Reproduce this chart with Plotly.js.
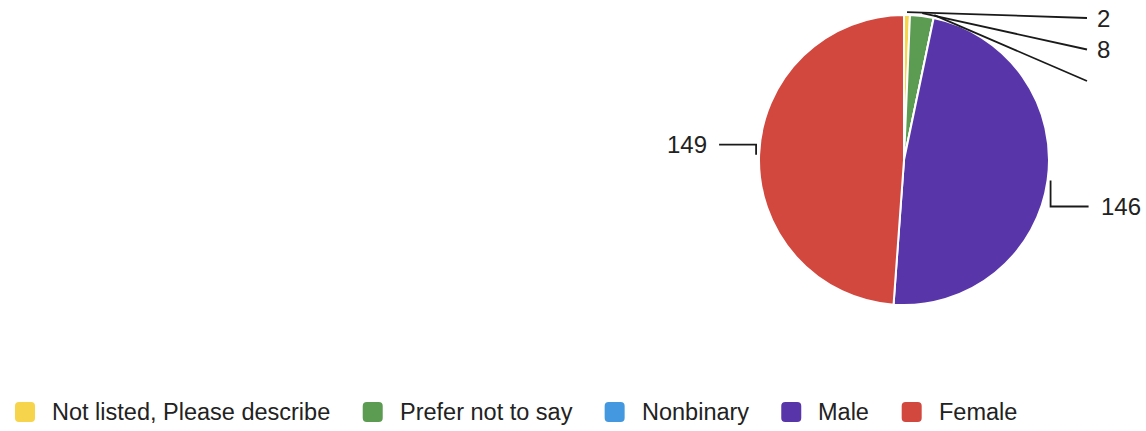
<!DOCTYPE html>
<html><head><meta charset="utf-8">
<script src="https://cdn.plot.ly/plotly-3.0.1.min.js"></script>
<style>html,body{margin:0;padding:0;background:#fff}#chart{width:1146px;height:431px}</style>
</head><body><div id="chart"></div>
<script>
// ---- data ----
const categories = ['Not listed, Please describe', 'Prefer not to say', 'Nonbinary', 'Male', 'Female'];
const counts = [2, 8, 0, 146, 149];
const sliceColors = ['#F6D44C', '#5B9C52', '#4398E0', '#5836AA', '#D2473E'];

// ---- layout constants ----
const W = 1146, H = 431;
const CX = 904, CY = 160, R = 145;
const FONT = '"Liberation Sans", Arial, Helvetica, sans-serif';
const TEXT = '#222222';
const LINE = '#1a1a1a';
const LABEL_SIZE = 24, LEGEND_SIZE = 23.5;
const px = x => x / W, py = y => 1 - y / H;

const total = counts.reduce((a, b) => a + b, 0);
let cum = 0;
const mids = counts.map(v => { const m = (cum + v / 2) / total * 2 * Math.PI; cum += v; return m; });

const shapes = [], annotations = [];
let smallK = 0;
counts.forEach((v, i) => {
  const th = mids[i], s = Math.sin(th), c = Math.cos(th);
  const x0 = CX + (R + 3) * s, y0 = CY - (R + 3) * c;
  if (v / total < 0.05) {
    const x1 = CX + R + 38, y1 = 18 + smallK * 31.5;
    shapes.push({type: 'path', xref: 'paper', yref: 'paper',
      path: `M${px(x0)},${py(y0)} L${px(x1)},${py(y1)}`,
      line: {color: LINE, width: 1.8}});
    if (v > 0) annotations.push({xref: 'paper', yref: 'paper', x: px(x1 + 8), y: py(y1),
      xanchor: 'left', yanchor: 'middle', showarrow: false, text: String(v),
      font: {family: FONT, size: LABEL_SIZE, color: TEXT}});
    smallK++;
  } else {
    const right = s > 0;
    const y1 = y0 + (right ? 26 : -10);
    const x2 = x0 + (right ? 38 : -37);
    shapes.push({type: 'path', xref: 'paper', yref: 'paper',
      path: `M${px(x0)},${py(y0)} L${px(x0)},${py(y1)} L${px(x2)},${py(y1)}`,
      line: {color: LINE, width: 1.8}});
    annotations.push({xref: 'paper', yref: 'paper', x: px(x2 + (right ? 10 : -10)), y: py(y1),
      xanchor: right ? 'left' : 'right', yanchor: 'middle', showarrow: false, text: String(v),
      font: {family: FONT, size: LABEL_SIZE, color: TEXT}});
  }
});

// ---- custom legend ----
const ctx = document.createElement('canvas').getContext('2d');
ctx.font = `${LEGEND_SIZE}px "Liberation Sans"`;
let lx = 15;
const LY = 412, SQ = 20, RAD = 4;
categories.forEach((name, i) => {
  const x0 = lx, x1 = lx + SQ, y0 = LY - SQ / 2, y1 = LY + SQ / 2;
  const p = `M${px(x0 + RAD)},${py(y0)} L${px(x1 - RAD)},${py(y0)} Q${px(x1)},${py(y0)} ${px(x1)},${py(y0 + RAD)} ` +
    `L${px(x1)},${py(y1 - RAD)} Q${px(x1)},${py(y1)} ${px(x1 - RAD)},${py(y1)} L${px(x0 + RAD)},${py(y1)} ` +
    `Q${px(x0)},${py(y1)} ${px(x0)},${py(y1 - RAD)} L${px(x0)},${py(y0 + RAD)} Q${px(x0)},${py(y0)} ${px(x0 + RAD)},${py(y0)} Z`;
  shapes.push({type: 'path', xref: 'paper', yref: 'paper', path: p,
    fillcolor: sliceColors[i], line: {width: 0}});
  const tx = x1 + 15;
  annotations.push({xref: 'paper', yref: 'paper', x: px(tx), y: py(LY),
    xanchor: 'left', yanchor: 'middle', showarrow: false, text: name,
    font: {family: FONT, size: LEGEND_SIZE, color: TEXT}});
  lx = tx + 2 + ctx.measureText(name).width + 32.5;
});

const trace = {
  type: 'pie',
  labels: categories,
  values: counts,
  sort: false,
  direction: 'clockwise',
  rotation: 0,
  textinfo: 'none',
  hoverinfo: 'label+value',
  marker: {colors: sliceColors, line: {color: '#ffffff', width: 2}},
  domain: {x: [px(CX - R), px(CX + R)], y: [py(CY + R), py(CY - R)]}
};

const layout = {
  width: W, height: H,
  margin: {l: 0, r: 0, t: 0, b: 0},
  paper_bgcolor: '#ffffff',
  showlegend: false,
  font: {family: FONT, color: TEXT},
  shapes: shapes,
  annotations: annotations
};

Plotly.newPlot('chart', [trace], layout, {displayModeBar: false, staticPlot: true});
</script>
</body></html>
